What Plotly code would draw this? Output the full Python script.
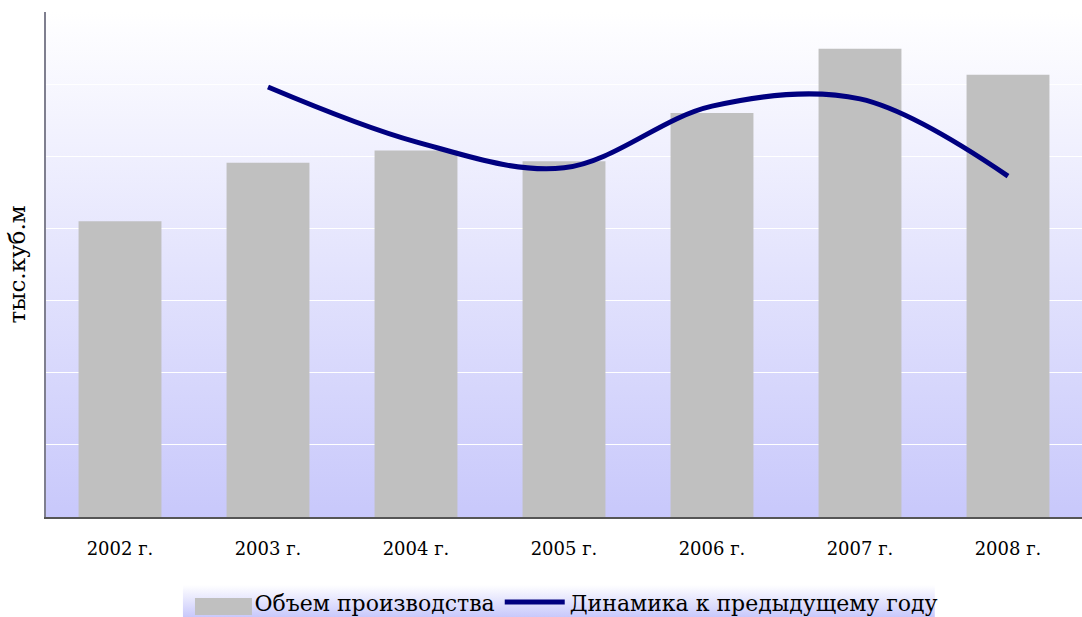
import base64
import plotly.graph_objects as go

years = ["2002 г.", "2003 г.", "2004 г.", "2005 г.", "2006 г.", "2007 г.", "2008 г."]
volume = [4.10, 4.91, 5.08, 4.93, 5.60, 6.49, 6.13]
dynamics = [None, 119.2, 104.0, 96.8, 113.9, 115.9, 94.5]

bar_name = "Объем производства"
line_name = "Динамика к предыдущему году"
y_title = "тыс.куб.м"


def grad_uri(top, bottom):
    svg = (
        '<svg xmlns="http://www.w3.org/2000/svg" width="100" height="100" preserveAspectRatio="none">'
        '<defs><linearGradient id="g" x1="0" y1="0" x2="0" y2="1">'
        f'<stop offset="0" stop-color="{top}"/><stop offset="1" stop-color="{bottom}"/>'
        '</linearGradient></defs><rect width="100" height="100" fill="url(#g)"/></svg>'
    )
    return "data:image/svg+xml;base64," + base64.b64encode(svg.encode()).decode()


fig = go.Figure()
fig.add_trace(go.Bar(x=years, y=volume, marker=dict(color="#C0C0C0", line=dict(width=0)),
                     name=bar_name, showlegend=False))
# legend entry for bars; its swatch is drawn as a wide grey block below
fig.add_trace(go.Scatter(x=[years[0]], y=[None], mode="lines", name=bar_name,
                         line=dict(color="rgba(0,0,0,0)", width=10)))
fig.add_trace(go.Scatter(x=years, y=dynamics, mode="lines", name=line_name, yaxis="y2",
                         line=dict(color="#000080", width=5, shape="spline"),
                         connectgaps=False))

fig.update_layout(
    width=1082, height=617,
    margin=dict(l=46, r=0, t=12, b=100, autoexpand=False),
    paper_bgcolor="white", plot_bgcolor="rgba(0,0,0,0)",
    font=dict(family="DejaVu Serif", color="black"),
    bargap=0.44,
    xaxis=dict(showgrid=False, showline=True, linecolor="#555555", linewidth=2,
               ticks="", tickfont=dict(family="DejaVu Serif", size=18),
               ticklabelstandoff=14, automargin=False),
    yaxis=dict(range=[0, 7], dtick=1, showgrid=True, gridcolor="white", gridwidth=1,
               showticklabels=False, ticks="", showline=True, linecolor="#7F7F8F",
               linewidth=2, zeroline=False, automargin=False,
               title=dict(text=y_title, font=dict(family="DejaVu Serif", size=23), standoff=12)),
    yaxis2=dict(range=[0, 140], overlaying="y", side="right", visible=False),
    legend=dict(orientation="h", x=0.5, xanchor="center", y=-0.127, yanchor="top",
                bgcolor="rgba(0,0,0,0)", itemwidth=60,
                font=dict(family="DejaVu Serif", size=22)),
    images=[
        dict(source=grad_uri("#FFFFFF", "#C8C8FB"), xref="paper", yref="paper",
             x=0, y=1, sizex=1, sizey=1, sizing="stretch", layer="below",
             xanchor="left", yanchor="top"),
        dict(source=grad_uri("#FFFFFF", "#C8C8FB"), xref="paper", yref="paper",
             x=0.132, y=-0.1347, sizex=0.726, sizey=0.0634, sizing="stretch", layer="below",
             xanchor="left", yanchor="top"),
    ],
    shapes=[
        dict(type="rect", xref="paper", yref="paper", x0=0.1438, x1=0.1988,
             y0=-0.194, y1=-0.1604, fillcolor="#C0C0C0", line=dict(width=0), layer="above"),
    ],
)

fig.write_html("out.html", post_script="document.body.style.margin='0';",
               config={"displayModeBar": False})
